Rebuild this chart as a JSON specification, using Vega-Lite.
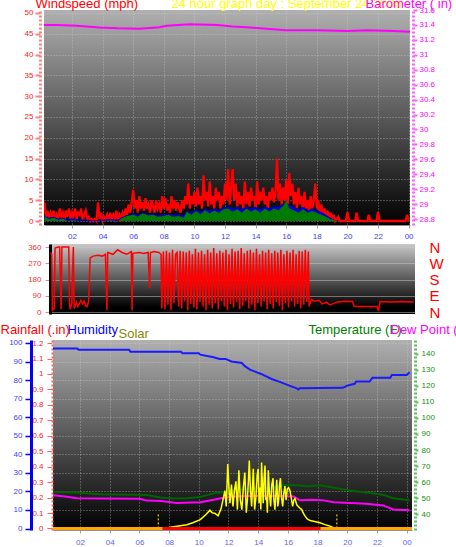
{
  "$schema": "https://vega.github.io/schema/vega-lite/v6.json",
  "autosize": {"type": "none"},
  "padding": {"left": 44, "top": 10, "right": 412, "bottom": 537},
  "background": "#ffffff",
  "spacing": 0,
  "config": {
    "view": {"stroke": null},
    "axis": {"labelFont": "Liberation Sans", "titleFont": "Liberation Sans", "titleFontSize": 13, "titleFontWeight": "normal", "titleAngle": 0, "titleAlign": "left", "titleBaseline": "alphabetic", "labelFontSize": 8, "labelFlush": false, "labelOverlap": false}
  },
  "datasets": {
    "ws": [{"t":0.2,"w":4.5},{"t":0.3,"w":1},{"t":0.4,"w":2.5},{"t":0.5,"w":0.5},{"t":0.6,"w":2},{"t":0.7,"w":1},{"t":0.8,"w":2.5},{"t":0.9,"w":0},{"t":1.0,"w":1.5},{"t":1.1,"w":0.5},{"t":1.2,"w":3},{"t":1.3,"w":1},{"t":1.4,"w":2},{"t":1.5,"w":0},{"t":1.6,"w":2.5},{"t":1.7,"w":1},{"t":1.8,"w":3},{"t":1.9,"w":0.5},{"t":2.0,"w":2},{"t":2.1,"w":1},{"t":2.2,"w":3},{"t":2.3,"w":0.5},{"t":2.4,"w":2},{"t":2.5,"w":1.5},{"t":2.6,"w":3},{"t":2.7,"w":0},{"t":2.8,"w":1.5},{"t":2.9,"w":2.5},{"t":3.0,"w":0.5},{"t":3.1,"w":1},{"t":3.2,"w":0},{"t":3.3,"w":0.5},{"t":3.4,"w":0},{"t":3.5,"w":0.5},{"t":3.6,"w":0},{"t":3.7,"w":4.5},{"t":3.8,"w":0.5},{"t":3.9,"w":2},{"t":4.0,"w":0},{"t":4.1,"w":1},{"t":4.2,"w":0.5},{"t":4.3,"w":1.5},{"t":4.4,"w":0},{"t":4.5,"w":2},{"t":4.6,"w":0.5},{"t":4.7,"w":1.5},{"t":4.8,"w":0.5},{"t":4.9,"w":2.5},{"t":5.0,"w":0},{"t":5.1,"w":1.5},{"t":5.2,"w":0.5},{"t":5.3,"w":2},{"t":5.4,"w":1},{"t":5.5,"w":3},{"t":5.6,"w":1.5},{"t":5.7,"w":4},{"t":5.8,"w":2},{"t":5.9,"w":4.5},{"t":6.0,"w":7.5},{"t":6.1,"w":3},{"t":6.2,"w":5},{"t":6.3,"w":2},{"t":6.4,"w":6},{"t":6.5,"w":3},{"t":6.6,"w":4.5},{"t":6.7,"w":2.5},{"t":6.8,"w":5.5},{"t":6.9,"w":3},{"t":7.0,"w":4},{"t":7.1,"w":2},{"t":7.2,"w":5},{"t":7.3,"w":3.5},{"t":7.4,"w":2},{"t":7.5,"w":5},{"t":7.6,"w":3},{"t":7.7,"w":4},{"t":7.8,"w":2},{"t":7.9,"w":6},{"t":8.0,"w":3},{"t":8.1,"w":5.5},{"t":8.2,"w":2.5},{"t":8.3,"w":4},{"t":8.4,"w":2},{"t":8.5,"w":6},{"t":8.6,"w":3},{"t":8.7,"w":5},{"t":8.8,"w":2.5},{"t":8.9,"w":4.5},{"t":9.0,"w":3},{"t":9.1,"w":2},{"t":9.2,"w":5},{"t":9.3,"w":3},{"t":9.4,"w":6},{"t":9.5,"w":4},{"t":9.6,"w":9},{"t":9.7,"w":3},{"t":9.8,"w":6},{"t":9.9,"w":4},{"t":10.0,"w":7},{"t":10.1,"w":3.5},{"t":10.2,"w":8},{"t":10.3,"w":4},{"t":10.4,"w":6},{"t":10.5,"w":3},{"t":10.6,"w":11},{"t":10.7,"w":5},{"t":10.8,"w":7},{"t":10.9,"w":3.5},{"t":11.0,"w":9.5},{"t":11.1,"w":4},{"t":11.2,"w":6},{"t":11.3,"w":3},{"t":11.4,"w":8},{"t":11.5,"w":5},{"t":11.6,"w":7},{"t":11.7,"w":3},{"t":11.8,"w":6},{"t":11.9,"w":4},{"t":12.0,"w":9},{"t":12.1,"w":5},{"t":12.2,"w":12.5},{"t":12.3,"w":4},{"t":12.4,"w":8},{"t":12.5,"w":12.5},{"t":12.6,"w":5},{"t":12.7,"w":9},{"t":12.8,"w":3.5},{"t":12.9,"w":7},{"t":13.0,"w":4},{"t":13.1,"w":6},{"t":13.2,"w":3},{"t":13.3,"w":9.5},{"t":13.4,"w":4},{"t":13.5,"w":7},{"t":13.6,"w":3.5},{"t":13.7,"w":8},{"t":13.8,"w":5},{"t":13.9,"w":6},{"t":14.0,"w":3},{"t":14.1,"w":9.5},{"t":14.2,"w":4},{"t":14.3,"w":7},{"t":14.4,"w":5},{"t":14.5,"w":8},{"t":14.6,"w":4},{"t":14.7,"w":6},{"t":14.8,"w":3},{"t":14.9,"w":7},{"t":15.0,"w":5},{"t":15.1,"w":8},{"t":15.2,"w":4.5},{"t":15.3,"w":7},{"t":15.4,"w":15},{"t":15.5,"w":5},{"t":15.6,"w":9},{"t":15.7,"w":4},{"t":15.8,"w":8},{"t":15.9,"w":5},{"t":16.0,"w":10},{"t":16.1,"w":4},{"t":16.2,"w":11.5},{"t":16.3,"w":6},{"t":16.4,"w":9},{"t":16.5,"w":4},{"t":16.6,"w":7},{"t":16.7,"w":3},{"t":16.8,"w":8},{"t":16.9,"w":4},{"t":17.0,"w":6},{"t":17.1,"w":2.5},{"t":17.2,"w":7},{"t":17.3,"w":3},{"t":17.4,"w":5},{"t":17.5,"w":2},{"t":17.6,"w":6},{"t":17.7,"w":3},{"t":17.8,"w":5},{"t":17.9,"w":9},{"t":18.0,"w":3},{"t":18.1,"w":5},{"t":18.2,"w":1.5},{"t":18.3,"w":4},{"t":18.4,"w":1},{"t":18.5,"w":3},{"t":18.6,"w":0.5},{"t":18.7,"w":2.5},{"t":18.8,"w":0.5},{"t":18.9,"w":2},{"t":19.0,"w":0},{"t":19.1,"w":1.5},{"t":19.2,"w":0},{"t":19.4,"w":1},{"t":19.5,"w":0},{"t":19.9,"w":0},{"t":20.0,"w":2.2},{"t":20.1,"w":0},{"t":20.5,"w":0},{"t":20.6,"w":2},{"t":20.7,"w":0},{"t":21.3,"w":0},{"t":21.4,"w":1.5},{"t":21.5,"w":0},{"t":21.9,"w":0},{"t":22.0,"w":2.2},{"t":22.1,"w":0},{"t":23.8,"w":0},{"t":23.9,"w":1.5},{"t":24.0,"w":0}],
    "wa": [{"t":0.2,"a":1.2,"g":1},{"t":0.5,"a":0.8,"g":0.5},{"t":0.8,"a":1,"g":0.8},{"t":1.1,"a":0.6,"g":0.3},{"t":1.4,"a":0.8,"g":0.6},{"t":1.7,"a":0.5,"g":0},{"t":2.0,"a":0.6,"g":0.2},{"t":2.5,"a":0.4,"g":0},{"t":3.0,"a":0.3,"g":0},{"t":3.5,"a":0.2,"g":0},{"t":4.0,"a":0.3,"g":0},{"t":4.5,"a":0.5,"g":0.2},{"t":5.0,"a":0.3,"g":0},{"t":5.3,"a":1,"g":0.8},{"t":5.6,"a":1.3,"g":1.2},{"t":6.0,"a":1.8,"g":1.5},{"t":6.3,"a":1.5,"g":1},{"t":6.6,"a":2,"g":1.8},{"t":7.0,"a":1.6,"g":1.3},{"t":7.3,"a":1.8,"g":1.5},{"t":7.6,"a":1.4,"g":1},{"t":8.0,"a":1.6,"g":1.2},{"t":8.3,"a":1.8,"g":1.5},{"t":8.6,"a":1.5,"g":1},{"t":9.0,"a":1.6,"g":1.2},{"t":9.3,"a":1.3,"g":0.8},{"t":9.5,"a":2.5,"g":2.2},{"t":9.8,"a":2,"g":1.5},{"t":10.1,"a":2.8,"g":2.4},{"t":10.4,"a":2.2,"g":1.6},{"t":10.7,"a":3,"g":2.6},{"t":11.0,"a":2.5,"g":1.8},{"t":11.3,"a":3,"g":2.5},{"t":11.6,"a":2.6,"g":2},{"t":11.9,"a":3.3,"g":2.8},{"t":12.2,"a":3.5,"g":3},{"t":12.5,"a":3,"g":2.2},{"t":12.8,"a":3.4,"g":2.8},{"t":13.1,"a":2.8,"g":2},{"t":13.4,"a":3.5,"g":3},{"t":13.7,"a":3,"g":2.2},{"t":14.0,"a":3.4,"g":2.8},{"t":14.3,"a":2.8,"g":2},{"t":14.6,"a":3.5,"g":3},{"t":14.9,"a":3,"g":2.3},{"t":15.2,"a":3.6,"g":3},{"t":15.5,"a":3.4,"g":2.6},{"t":15.8,"a":4,"g":3.6},{"t":16.0,"a":4.5,"g":5},{"t":16.2,"a":3.8,"g":3},{"t":16.5,"a":3.4,"g":2.6},{"t":16.8,"a":2.8,"g":2},{"t":17.1,"a":3.4,"g":2.8},{"t":17.4,"a":2.6,"g":2},{"t":17.7,"a":3,"g":2.4},{"t":18.0,"a":2.5,"g":2},{"t":18.3,"a":2.2,"g":1.5},{"t":18.6,"a":1.5,"g":1},{"t":18.9,"a":0.8,"g":0.5},{"t":19.2,"a":0.2,"g":0.2},{"t":19.4,"a":0,"g":0},{"t":24.0,"a":0,"g":0}],
    "baro": [{"t":0.17,"p":31.40},{"t":1.0,"p":31.40},{"t":2.3,"p":31.39},{"t":3.8,"p":31.365},{"t":5.0,"p":31.355},{"t":6.4,"p":31.35},{"t":7.7,"p":31.37},{"t":8.2,"p":31.39},{"t":9.7,"p":31.41},{"t":11.5,"p":31.40},{"t":12.5,"p":31.38},{"t":13.4,"p":31.37},{"t":14.7,"p":31.35},{"t":16.0,"p":31.33},{"t":18.0,"p":31.33},{"t":20.0,"p":31.32},{"t":21.3,"p":31.33},{"t":23.0,"p":31.32},{"t":24.09,"p":31.31}],
    "dir": [{"t":0.2,"d":330},{"t":0.28,"d":320},{"t":0.33,"d":10},{"t":0.45,"d":20},{"t":0.5,"d":355},{"t":0.7,"d":360},{"t":0.8,"d":360},{"t":0.9,"d":15},{"t":0.95,"d":360},{"t":1.2,"d":360},{"t":1.4,"d":360},{"t":1.45,"d":40},{"t":1.5,"d":15},{"t":1.6,"d":50},{"t":1.7,"d":360},{"t":1.75,"d":20},{"t":1.9,"d":55},{"t":2.0,"d":30},{"t":2.2,"d":65},{"t":2.3,"d":45},{"t":2.4,"d":60},{"t":2.5,"d":35},{"t":2.6,"d":30},{"t":2.7,"d":60},{"t":2.8,"d":300},{"t":3.0,"d":310},{"t":3.3,"d":315},{"t":3.6,"d":310},{"t":3.8,"d":320},{"t":3.9,"d":10},{"t":3.95,"d":330},{"t":4.3,"d":320},{"t":4.6,"d":345},{"t":4.9,"d":330},{"t":5.2,"d":320},{"t":5.5,"d":335},{"t":5.55,"d":10},{"t":5.6,"d":325},{"t":6.0,"d":330},{"t":6.3,"d":325},{"t":6.6,"d":330},{"t":6.7,"d":130},{"t":6.75,"d":330},{"t":7.0,"d":335},{"t":7.3,"d":330},{"t":7.45,"d":320},{"t":7.5,"d":20},{"t":7.6,"d":335},{"t":7.7,"d":15},{"t":7.8,"d":340},{"t":7.9,"d":40},{"t":8.0,"d":330},{"t":8.1,"d":10},{"t":8.2,"d":345},{"t":8.3,"d":50},{"t":8.4,"d":320},{"t":8.5,"d":330},{"t":8.6,"d":30},{"t":8.7,"d":340},{"t":8.8,"d":20},{"t":8.9,"d":335},{"t":9.0,"d":60},{"t":9.1,"d":330},{"t":9.2,"d":10},{"t":9.3,"d":340},{"t":9.4,"d":45},{"t":9.5,"d":320},{"t":9.6,"d":25},{"t":9.7,"d":350},{"t":9.8,"d":15},{"t":9.9,"d":330},{"t":10.0,"d":55},{"t":10.1,"d":340},{"t":10.2,"d":30},{"t":10.3,"d":320},{"t":10.4,"d":10},{"t":10.5,"d":345},{"t":10.6,"d":40},{"t":10.7,"d":330},{"t":10.8,"d":20},{"t":10.9,"d":355},{"t":11.0,"d":50},{"t":11.1,"d":325},{"t":11.2,"d":15},{"t":11.3,"d":340},{"t":11.4,"d":60},{"t":11.5,"d":330},{"t":11.6,"d":30},{"t":11.7,"d":345},{"t":11.8,"d":10},{"t":11.9,"d":320},{"t":12.0,"d":45},{"t":12.1,"d":350},{"t":12.2,"d":25},{"t":12.3,"d":335},{"t":12.4,"d":55},{"t":12.5,"d":340},{"t":12.6,"d":15},{"t":12.7,"d":355},{"t":12.8,"d":35},{"t":12.9,"d":325},{"t":13.0,"d":60},{"t":13.1,"d":340},{"t":13.2,"d":20},{"t":13.3,"d":345},{"t":13.4,"d":40},{"t":13.5,"d":330},{"t":13.6,"d":10},{"t":13.7,"d":350},{"t":13.8,"d":50},{"t":13.9,"d":320},{"t":14.0,"d":30},{"t":14.1,"d":340},{"t":14.2,"d":60},{"t":14.3,"d":330},{"t":14.4,"d":15},{"t":14.5,"d":345},{"t":14.6,"d":45},{"t":14.7,"d":325},{"t":14.8,"d":20},{"t":14.9,"d":340},{"t":15.0,"d":55},{"t":15.1,"d":330},{"t":15.2,"d":35},{"t":15.3,"d":345},{"t":15.4,"d":10},{"t":15.5,"d":320},{"t":15.6,"d":50},{"t":15.7,"d":340},{"t":15.8,"d":25},{"t":15.9,"d":330},{"t":16.0,"d":60},{"t":16.1,"d":345},{"t":16.2,"d":30},{"t":16.3,"d":320},{"t":16.4,"d":45},{"t":16.5,"d":340},{"t":16.6,"d":20},{"t":16.7,"d":335},{"t":16.8,"d":40},{"t":16.9,"d":345},{"t":17.0,"d":55},{"t":17.1,"d":335},{"t":17.15,"d":30},{"t":17.3,"d":70},{"t":17.5,"d":60},{"t":17.8,"d":65},{"t":18.0,"d":45},{"t":18.3,"d":55},{"t":18.5,"d":40},{"t":18.7,"d":45},{"t":19.0,"d":55},{"t":19.5,"d":60},{"t":20.0,"d":58},{"t":20.1,"d":30},{"t":21.6,"d":30},{"t":21.7,"d":5},{"t":21.8,"d":58},{"t":22.5,"d":55},{"t":23.2,"d":58},{"t":24.0,"d":55}],
    "hum": [{"t":0.18,"h":97},{"t":1.8,"h":97},{"t":1.9,"h":96.4},{"t":5.3,"h":96.4},{"t":5.4,"h":95.3},{"t":8.8,"h":95.3},{"t":8.9,"h":94.4},{"t":10.0,"h":94.4},{"t":10.1,"h":93.7},{"t":11.0,"h":92.3},{"t":11.4,"h":91.4},{"t":11.8,"h":91.4},{"t":12.2,"h":90},{"t":12.9,"h":89.2},{"t":13.1,"h":87.5},{"t":13.45,"h":85.6},{"t":14.2,"h":83.3},{"t":14.9,"h":80.6},{"t":15.5,"h":78.9},{"t":16.1,"h":77},{"t":16.6,"h":75.5},{"t":16.7,"h":74.9},{"t":16.8,"h":75.6},{"t":19.7,"h":75.8},{"t":20.0,"h":77},{"t":20.5,"h":78},{"t":20.6,"h":79.2},{"t":21.5,"h":79.2},{"t":21.7,"h":81.2},{"t":22.9,"h":81.2},{"t":23.0,"h":82.8},{"t":24.0,"h":82.8},{"t":24.2,"h":84.2}],
    "sol": [{"t":0.18,"s":0},{"t":7.6,"s":0},{"t":8.3,"s":5},{"t":9.2,"s":12},{"t":9.6,"s":18},{"t":10.1,"s":28},{"t":10.5,"s":45},{"t":10.75,"s":58},{"t":10.9,"s":50},{"t":11.1,"s":48},{"t":11.3,"s":40},{"t":11.5,"s":63},{"t":11.76,"s":120},{"t":11.85,"s":70},{"t":11.95,"s":205},{"t":12.05,"s":110},{"t":12.1,"s":80},{"t":12.2,"s":140},{"t":12.3,"s":70},{"t":12.4,"s":120},{"t":12.5,"s":150},{"t":12.6,"s":60},{"t":12.7,"s":185},{"t":12.8,"s":90},{"t":12.9,"s":60},{"t":13.0,"s":130},{"t":13.1,"s":178},{"t":13.2,"s":50},{"t":13.27,"s":90},{"t":13.35,"s":160},{"t":13.4,"s":216},{"t":13.48,"s":120},{"t":13.56,"s":70},{"t":13.67,"s":190},{"t":13.76,"s":60},{"t":13.85,"s":100},{"t":13.93,"s":170},{"t":14.0,"s":190},{"t":14.06,"s":80},{"t":14.12,"s":130},{"t":14.18,"s":60},{"t":14.23,"s":210},{"t":14.3,"s":120},{"t":14.34,"s":80},{"t":14.4,"s":160},{"t":14.46,"s":200},{"t":14.52,"s":90},{"t":14.57,"s":100},{"t":14.62,"s":50},{"t":14.68,"s":185},{"t":14.76,"s":110},{"t":14.84,"s":70},{"t":14.92,"s":140},{"t":15.0,"s":160},{"t":15.06,"s":90},{"t":15.13,"s":60},{"t":15.2,"s":120},{"t":15.25,"s":155},{"t":15.32,"s":70},{"t":15.38,"s":90},{"t":15.44,"s":140},{"t":15.5,"s":160},{"t":15.57,"s":100},{"t":15.65,"s":70},{"t":15.72,"s":110},{"t":15.8,"s":135},{"t":15.88,"s":90},{"t":15.96,"s":125},{"t":16.05,"s":130},{"t":16.14,"s":120},{"t":16.22,"s":100},{"t":16.32,"s":70},{"t":16.4,"s":90},{"t":16.48,"s":95},{"t":16.6,"s":75},{"t":16.7,"s":70},{"t":16.8,"s":65},{"t":16.93,"s":60},{"t":17.05,"s":48},{"t":17.15,"s":40},{"t":17.3,"s":30},{"t":17.5,"s":25},{"t":17.8,"s":22},{"t":18.16,"s":18},{"t":18.5,"s":12},{"t":18.8,"s":8},{"t":19.0,"s":4},{"t":19.28,"s":0},{"t":24.36,"s":0}],
    "sun": [{"t":7.27,"s0":0,"s1":45},{"t":19.3,"s0":0,"s1":45}],
    "rain": [{"t":0.18,"r":0},{"t":24.36,"r":0}],
    "rain2": [{"t":7.55,"r":0},{"t":18.2,"r":0}],
    "temp": [{"t":0.18,"tp":53.9},{"t":1.8,"tp":53.5},{"t":3.35,"tp":52.5},{"t":6.5,"tp":52},{"t":7.4,"tp":50.5},{"t":8.3,"tp":49.8},{"t":9.2,"tp":50},{"t":10.1,"tp":50.8},{"t":11.0,"tp":53},{"t":11.4,"tp":53.5},{"t":12.3,"tp":55},{"t":13.7,"tp":56},{"t":15.0,"tp":56.5},{"t":15.7,"tp":58},{"t":16.4,"tp":58.2},{"t":17.3,"tp":57.4},{"t":18.2,"tp":58},{"t":19.1,"tp":56.5},{"t":20.2,"tp":54.8},{"t":21.3,"tp":53.5},{"t":22.4,"tp":52.2},{"t":23.1,"tp":50},{"t":24.2,"tp":48.7}],
    "dew": [{"t":0.18,"dp":51.8},{"t":1.0,"dp":51},{"t":1.8,"dp":50},{"t":3.35,"dp":49.8},{"t":6.0,"dp":49.6},{"t":6.5,"dp":48.5},{"t":7.5,"dp":48.3},{"t":8.5,"dp":47},{"t":10.1,"dp":47.5},{"t":11.0,"dp":49},{"t":11.5,"dp":50},{"t":12.3,"dp":51},{"t":13.7,"dp":51.4},{"t":15.5,"dp":51.4},{"t":16.4,"dp":51},{"t":16.8,"dp":48.7},{"t":17.5,"dp":49},{"t":18.3,"dp":48.8},{"t":19.1,"dp":47.5},{"t":20.2,"dp":47},{"t":21.3,"dp":46.5},{"t":22.4,"dp":45.5},{"t":23.1,"dp":43},{"t":24.2,"dp":42.5}]
  },
  "vconcat": [
    {
      "width": 366,
      "height": 215,
      "view": {"stroke": null, "fill": {"gradient": "linear", "x1": 0, "y1": 0, "x2": 0, "y2": 1, "stops": [{"offset": 0, "color": "#b0b0b0"}, {"offset": 1, "color": "#000000"}]}},
      "resolve": {"scale": {"y": "independent"}},
      "layer": [
        {
          "data": {"name": "ws"},
          "mark": {"type": "line", "color": "#ff0000", "strokeWidth": 2.3, "clip": true},
          "encoding": {
            "x": {"field": "t", "type": "quantitative", "scale": {"domain": [0.17, 24.09], "nice": false, "zero": false},
              "axis": {"values": [2,4,6,8,10,12,14,16,18,20,22,24], "tickCount": 30, "labelExpr": "(datum.value % 24 < 10 ? '0' : '') + (datum.value % 24)", "labelOverlap": false, "labelColor": "#4040ff", "labelFontSize": 8, "labelPadding": 4, "tickColor": "#a0a0a0", "tickSize": 3, "domainColor": "#909090", "grid": true, "gridColor": "#d0d0d0", "gridDash": [1, 2], "gridOpacity": 0.6, "title": "24 hour graph day : September 24 2006", "titleColor": "#ffff00", "titleX": 127, "titleY": -218}},
            "y": {"field": "w", "type": "quantitative", "scale": {"domain": [-0.96, 50.7], "nice": false, "zero": false},
              "axis": {"orient": "left", "offset": 4, "values": [0,5,10,15,20,25,30,35,40,45,50], "tickCount": 30, "labelColor": "#ff2020", "labelFontSize": 8, "labelPadding": 2, "tickColor": "#ff8080", "tickSize": 5, "tickWidth": 2, "domainColor": "#ff8080", "domainWidth": 3, "domainDash": [2, 2], "grid": true, "gridColor": "#d0d0d0", "gridDash": [1, 2], "gridOpacity": 0.6, "title": "Windspeed (mph)", "titleColor": "#ff0000", "titleX": -5, "titleY": -3}}
          }
        },
        {
          "data": {"name": "wa"},
          "mark": {"type": "area", "color": "#0000cc", "clip": true},
          "encoding": {
            "x": {"field": "t", "type": "quantitative", "scale": {"domain": [0.17, 24.09], "nice": false, "zero": false}},
            "y": {"field": "a", "type": "quantitative", "scale": {"domain": [-0.96, 50.7], "nice": false, "zero": false}, "axis": null}
          }
        },
        {
          "data": {"name": "wa"},
          "mark": {"type": "area", "color": "#007a00", "clip": true},
          "encoding": {
            "x": {"field": "t", "type": "quantitative", "scale": {"domain": [0.17, 24.09], "nice": false, "zero": false}},
            "y": {"field": "g", "type": "quantitative", "scale": {"domain": [-0.96, 50.7], "nice": false, "zero": false}, "axis": null}
          }
        },
        {
          "data": {"name": "baro"},
          "mark": {"type": "line", "color": "#ff00ff", "strokeWidth": 2, "clip": true},
          "encoding": {
            "x": {"field": "t", "type": "quantitative", "scale": {"domain": [0.17, 24.09], "nice": false, "zero": false}},
            "y": {"field": "p", "type": "quantitative", "scale": {"domain": [28.72, 31.6], "nice": false, "zero": false},
              "axis": {"orient": "right", "offset": 3, "values": [28.8,29,29.2,29.4,29.6,29.8,30,30.2,30.4,30.6,30.8,31,31.2,31.4,31.6], "tickCount": 30, "format": ".1~f", "labelColor": "#ff00ff", "labelFontSize": 8, "labelPadding": 2, "tickColor": "#ff60ff", "tickSize": 4, "tickWidth": 2, "domainColor": "#ff60ff", "domainWidth": 3, "domainDash": [2, 2], "grid": false, "title": "Barometer ( in)", "titleColor": "#ff00ff", "titleX": -48, "titleY": -3}}
          }
        }
      ]
    },
    {
      "bounds": "flush",
      "spacing": 5,
      "hconcat": [
        {"width": 1, "height": 79, "data": {"values": []}, "mark": "point", "view": {"stroke": null, "fill": null}},
        {
          "width": 365,
          "height": 70,
          "view": {"stroke": null, "fill": {"gradient": "linear", "x1": 0, "y1": 0, "x2": 0, "y2": 1, "stops": [{"offset": 0, "color": "#c8c8c8"}, {"offset": 0.9, "color": "#000000"}, {"offset": 1, "color": "#000000"}]}},
          "resolve": {"scale": {"y": "independent"}},
          "layer": [
            {
              "data": {"name": "dir"},
              "mark": {"type": "line", "color": "#ff0000", "strokeWidth": 1.5, "clip": true},
              "encoding": {
                "x": {"field": "t", "type": "quantitative", "scale": {"domain": [0.17, 24.09], "nice": false, "zero": false}, "axis": null},
                "y": {"field": "d", "type": "quantitative", "scale": {"domain": [-11, 377], "nice": false, "zero": false},
                  "axis": {"orient": "left", "offset": 0, "values": [0, 90, 180, 270, 360], "tickCount": 30, "labelColor": "#ff3030", "labelFontSize": 8, "labelPadding": 4, "tickColor": "#ff8080", "tickSize": 5, "domainColor": "#000000", "domainWidth": 3, "grid": true, "gridColor": "#c8c8c8", "gridOpacity": 0.5, "title": null}}
              }
            },
            {
              "data": {"name": "dir"},
              "mark": {"type": "line", "strokeOpacity": 0, "clip": true},
              "encoding": {
                "x": {"field": "t", "type": "quantitative", "scale": {"domain": [0.17, 24.09], "nice": false, "zero": false}, "axis": null},
                "y": {"field": "d", "type": "quantitative", "scale": {"domain": [-11, 377], "nice": false, "zero": false},
                  "axis": {"orient": "right", "values": [0, 90, 180, 270, 360], "tickCount": 30, "labelExpr": "datum.value == 360 ? 'N' : datum.value == 270 ? 'W' : datum.value == 180 ? 'S' : datum.value == 90 ? 'E' : 'N'", "labelColor": "#ff0000", "labelFontSize": 15, "labelPadding": 14, "ticks": false, "domain": false, "grid": false, "title": null}}
              }
            }
          ]
        }
      ]
    },
    {
      "bounds": "flush",
      "spacing": 8,
      "hconcat": [
        {"width": 1, "height": 1, "data": {"values": []}, "mark": "point", "view": {"stroke": null, "fill": null}},
        {
          "width": 359,
          "height": 190,
          "view": {"stroke": null, "fill": {"gradient": "linear", "x1": 0, "y1": 0, "x2": 0, "y2": 1, "stops": [{"offset": 0, "color": "#b0b0b0"}, {"offset": 1, "color": "#000000"}]}},
          "resolve": {"scale": {"y": "independent"}},
          "layer": [
            {
              "data": {"name": "hum"},
              "mark": {"type": "line", "color": "#1a1aff", "strokeWidth": 2, "clip": true},
              "encoding": {
                "x": {"field": "t", "type": "quantitative", "scale": {"domain": [0.18, 24.36], "nice": false, "zero": false},
                  "axis": {"values": [2,4,6,8,10,12,14,16,18,20,22,24], "tickCount": 30, "labelExpr": "(datum.value % 24 < 10 ? '0' : '') + (datum.value % 24)", "labelOverlap": false, "labelColor": "#6060ff", "labelFontSize": 8, "labelPadding": 5, "tickColor": "#a0a0a0", "tickSize": 3, "domainColor": "#909090", "grid": true, "gridColor": "#d0d0d0", "gridDash": [1, 2], "gridOpacity": 0.6, "title": null}},
                "y": {"field": "h", "type": "quantitative", "scale": {"domain": [-0.8, 101.6], "nice": false, "zero": false},
                  "axis": {"orient": "left", "offset": 22, "values": [0,10,20,30,40,50,60,70,80,90,100], "tickCount": 30, "labelColor": "#4040ff", "labelFontSize": 8, "labelPadding": 3, "tickColor": "#0000ff", "tickSize": 6, "tickWidth": 1.5, "domainColor": "#0000ff", "domainWidth": 3, "grid": true, "gridColor": "#d0d0d0", "gridDash": [1, 2], "gridOpacity": 0.6, "title": "Humidity", "titleColor": "#0000ff", "titleX": 36, "titleY": -7}}
              }
            },
            {
              "data": {"name": "temp"},
              "mark": {"type": "line", "color": "#006400", "strokeWidth": 2, "clip": true},
              "encoding": {
                "x": {"field": "t", "type": "quantitative", "scale": {"domain": [0.18, 24.36], "nice": false, "zero": false}},
                "y": {"field": "tp", "type": "quantitative", "scale": {"domain": [30.2, 148.5], "nice": false, "zero": false},
                  "axis": {"orient": "right", "offset": 3, "values": [40,50,60,70,80,90,100,110,120,130,140], "tickCount": 30, "labelColor": "#109010", "labelFontSize": 8, "labelPadding": 3, "tickColor": "#60c060", "tickSize": 3, "tickWidth": 2, "domainColor": "#60c060", "domainWidth": 3, "domainDash": [2, 2], "grid": false, "title": "Temperature (F)", "titleColor": "#008000", "titleX": -107, "titleY": -7}}
              }
            },
            {
              "data": {"name": "dew"},
              "mark": {"type": "line", "color": "#ff00ff", "strokeWidth": 2, "clip": true},
              "encoding": {
                "x": {"field": "t", "type": "quantitative", "scale": {"domain": [0.18, 24.36], "nice": false, "zero": false}},
                "y": {"field": "dp", "type": "quantitative", "scale": {"domain": [30.2, 148.5], "nice": false, "zero": false},
                  "axis": {"orient": "right", "offset": 3, "labels": false, "ticks": false, "domain": false, "grid": false, "title": "Dew Point (F)", "titleColor": "#ff00ff", "titleX": -25, "titleY": -7}}
              }
            },
            {
              "data": {"name": "sol"},
              "mark": {"type": "line", "color": "#ffff00", "strokeWidth": 1.5, "clip": true},
              "encoding": {
                "x": {"field": "t", "type": "quantitative", "scale": {"domain": [0.18, 24.36], "nice": false, "zero": false}},
                "y": {"field": "s", "type": "quantitative", "scale": {"domain": [-5, 600], "nice": false, "zero": false},
                  "axis": {"orient": "left", "offset": 0, "labels": false, "ticks": false, "domain": false, "grid": false, "title": "Solar", "titleColor": "#888800", "titleX": 65, "titleY": -3}}
              }
            },
            {
              "data": {"name": "sun"},
              "mark": {"type": "rule", "color": "#ffff00", "strokeWidth": 1, "strokeDash": [2, 2]},
              "encoding": {
                "x": {"field": "t", "type": "quantitative", "scale": {"domain": [0.18, 24.36], "nice": false, "zero": false}},
                "y": {"field": "s0", "type": "quantitative", "scale": {"domain": [-5, 600], "nice": false, "zero": false}, "axis": null},
                "y2": {"field": "s1"}
              }
            },
            {
              "data": {"name": "rain"},
              "mark": {"type": "line", "color": "#ffa500", "strokeWidth": 3, "clip": true},
              "encoding": {
                "x": {"field": "t", "type": "quantitative", "scale": {"domain": [0.18, 24.36], "nice": false, "zero": false}},
                "y": {"field": "r", "type": "quantitative", "scale": {"domain": [-0.01, 1.22], "nice": false, "zero": false},
                  "axis": {"orient": "left", "offset": 1, "values": [0,0.1,0.2,0.3,0.4,0.5,0.6,0.7,0.8,0.9,1,1.1,1.2], "tickCount": 30, "format": ".1~f", "labelColor": "#ff2020", "labelFontSize": 8, "labelPadding": 4, "tickColor": "#ff6060", "tickSize": 5, "domainColor": "#ff6060", "domainWidth": 2, "domainDash": [2, 2], "grid": false, "title": "Rainfall (.in)", "titleColor": "#ff0000", "titleX": -52, "titleY": -7}}
              }
            },
            {
              "data": {"name": "rain2"},
              "mark": {"type": "line", "color": "#ff0000", "strokeWidth": 3, "clip": true},
              "encoding": {
                "x": {"field": "t", "type": "quantitative", "scale": {"domain": [0.18, 24.36], "nice": false, "zero": false}},
                "y": {"field": "r", "type": "quantitative", "scale": {"domain": [-0.01, 1.22], "nice": false, "zero": false}, "axis": null}
              }
            }
          ]
        }
      ]
    }
  ]
}
